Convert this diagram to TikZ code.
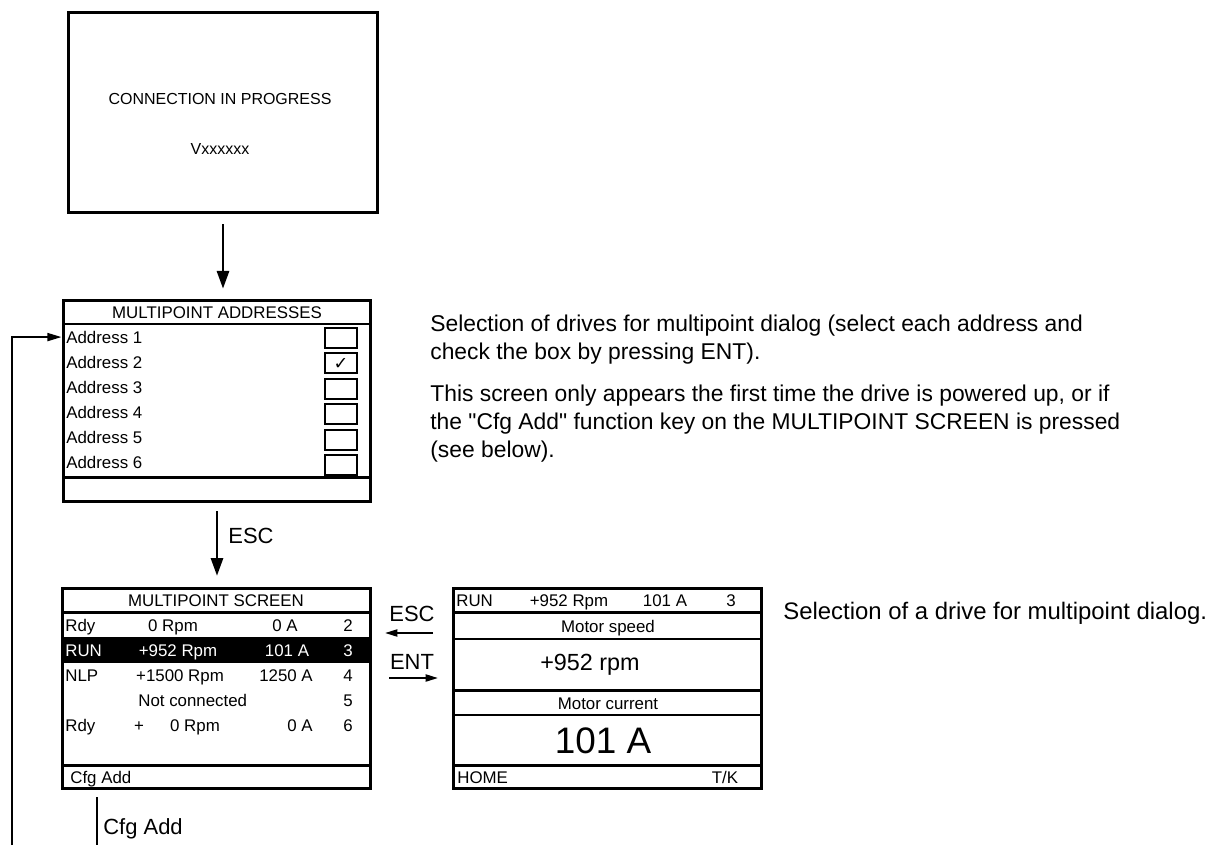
\documentclass[tikz,border=0pt]{standalone}
\usepackage{fontspec}
\setmainfont{Liberation Sans}[Ligatures=TeXOff]
\newfontfamily\djv{DejaVu Sans}
\usetikzlibrary{arrows.meta}
\begin{document}
\begin{tikzpicture}[x=0.02cm,y=-0.02cm,
  box/.style={draw, line width=1.7pt, inner sep=0pt, minimum width=6.18cm, minimum height=4.02cm},
  thk/.style={line width=1.7pt},
  thn/.style={line width=0.9pt},
  cb/.style={line width=1.2pt},
  con/.style={inner sep=0pt, font=\fontsize{9.1}{11}\selectfont},
  scr/.style={inner sep=0pt, font=\fontsize{9.6}{11}\selectfont},
  lbl/.style={inner sep=0pt, font=\fontsize{12.5}{15}\selectfont},
  par/.style={inner sep=0pt, font=\fontsize{13}{15}\selectfont},
  capt/.style={inner sep=0pt, font=\fontsize{13.6}{16}\selectfont},
  arrbig/.style={line width=1.1pt, -{Triangle[length=10pt,width=7pt]}},
  arrmid/.style={line width=1.1pt, -{Triangle[length=8pt,width=4.5pt]}},
  arrsml/.style={line width=1.1pt, -{Triangle[length=7pt,width=4pt]}},
]
\useasboundingbox (0,0) rectangle (1216,845);

% --- connection box
\node[box, minimum width=6.2cm] (conn) at (223,112.5) {};
\node[con, anchor=base] (ct) at (220,104.7) {CONNECTION IN PROGRESS};
\node[con, anchor=base] (vx) at (220,154.7) {Vxxxxxx};

% --- multipoint addresses
\node[box, minimum width=6.16cm, minimum height=4.04cm] (addr) at (217,401) {};
\draw[thk] (63,324) -- (371,324);
\draw[thk] (63,477) -- (371,477);
\node[scr, anchor=base] (ah) at (217,318.1) {MULTIPOINT ADDRESSES};
\foreach \k in {1,...,6}
  \node[scr, anchor=base west] (a\k) at (66,{343.1+25*(\k-1)}) {Address \k};
\foreach \k in {0,...,5}
  \draw[cb] (325,{328+25.4*\k}) rectangle ++(32,20);
\node[inner sep=0pt, font=\djv\fontsize{10}{12}\selectfont] (chk) at (341,363.5) {✓};

% --- multipoint screen
\fill (62,637) rectangle (371,663);
\node[box] (ms) at (216.5,688.5) {};
\draw[thk] (62,612) -- (371,612);
\draw[thk] (62,765) -- (371,765);
\node[scr, anchor=base] (mh) at (216,606.1) {MULTIPOINT SCREEN};
\node[scr, anchor=base west] (r1a) at (65,631.1) {Rdy};
\node[scr, anchor=base] (r1b) at (173,631.1) {0 Rpm};
\node[scr, anchor=base] (r1c) at (285,631.1) {0 A};
\node[scr, anchor=base] (r1d) at (348,631.1) {2};
\node[scr, anchor=base west, text=white] (r2a) at (65,656.1) {RUN};
\node[scr, anchor=base, text=white] (r2b) at (178,656.1) {+952 Rpm};
\node[scr, anchor=base, text=white] (r2c) at (287,656.1) {101 A};
\node[scr, anchor=base, text=white] (r2d) at (348,656.1) {3};
\node[scr, anchor=base west] (r3a) at (65,681.1) {NLP};
\node[scr, anchor=base] (r3b) at (180,681.1) {+1500 Rpm};
\node[scr, anchor=base] (r3c) at (286,681.1) {1250 A};
\node[scr, anchor=base] (r3d) at (348,681.1) {4};
\node[scr, anchor=base west] (r4a) at (138,706.1) {Not connected};
\node[scr, anchor=base] (r4d) at (348,706.1) {5};
\node[scr, anchor=base west] (r5a) at (65,731.1) {Rdy};
\node[scr, anchor=base] (r5b) at (139,731.1) {+};
\node[scr, anchor=base] (r5c) at (195,731.1) {0 Rpm};
\node[scr, anchor=base] (r5e) at (300,731.1) {0 A};
\node[scr, anchor=base] (r5d) at (348,731.1) {6};
\node[scr, anchor=base west] (mf) at (70,783.1) {Cfg Add};

% --- right screen
\node[box] (rs) at (607.5,688.5) {};
\draw[thk] (453,612) -- (762,612);
\draw[thn] (453,639) -- (762,639);
\draw[thk] (453,690) -- (762,690);
\draw[thn] (453,715) -- (762,715);
\draw[thk] (453,765) -- (762,765);
\node[scr, anchor=base west] (s1) at (456,606.1) {RUN};
\node[scr, anchor=base] (s2) at (569,606.1) {+952 Rpm};
\node[scr, anchor=base] (s3) at (665,606.1) {101 A};
\node[scr, anchor=base] (s4) at (731,606.1) {3};
\node[scr, anchor=base] (ms1) at (608,632.1) {Motor speed};
\node[inner sep=0pt, anchor=base, font=\fontsize{13.3}{16}\selectfont] (ms2) at (590,670.4) {+952 rpm};
\node[scr, anchor=base] (mc1) at (608,709.1) {Motor current};
\node[inner sep=0pt, anchor=base, font=\fontsize{21}{25}\selectfont] (mc2) at (603,753.2) {101 A};
\node[scr, anchor=base west] (hm) at (457,783.1) {HOME};
\node[scr, anchor=base] (tk) at (725,783.1) {T/K};

% --- connectors
\draw[arrbig, shorten <=5.7pt, shorten >=5.7pt] (conn.south) -- (conn.south |- addr.north);
\draw[arrbig, shorten <=4.5pt, shorten >=6.2pt] (addr.south) -- (addr.south |- ms.north);
\node[lbl, anchor=base west] (esc1) at (228,543.9) {ESC};

\coordinate (escA) at (433,633);
\coordinate (escB) at (385,633);
\draw[arrsml] (escA) -- (escB);
\node[lbl, anchor=base] (esc2) at (412,621.9) {ESC};
\coordinate (entA) at (389,678);
\coordinate (entB) at (438,678);
\draw[arrsml] (entA) -- (entB);
\node[lbl, anchor=base] (ent) at (412,669.9) {ENT};

\coordinate (fb) at (12,845);
\draw[arrmid] (fb) |- (a1.west -| addr.west);

\coordinate (cf1) at (97,797);
\coordinate (cf2) at (97,845);
\draw[line width=1.1pt] (cf1) -- (cf2);
\node[lbl, anchor=base west] (cfg) at (103,834.9) {Cfg Add};

% --- descriptions
\node[par, anchor=base west] (p1) at (430,331.2) {Selection of drives for multipoint dialog (select each address and};
\node[par, anchor=base west] (p2) at (430,359.2) {check the box by pressing ENT).};
\node[par, anchor=base west] (p3) at (430,401.2) {This screen only appears the first time the drive is powered up, or if};
\node[par, anchor=base west] (p4) at (430,429.2) {the "Cfg Add" function key on the MULTIPOINT SCREEN is pressed};
\node[par, anchor=base west] (p5) at (430,457.2) {(see below).};
\node[capt, anchor=base west] (cap) at (783,619.6) {Selection of a drive for multipoint dialog.};
\end{tikzpicture}
\end{document}
